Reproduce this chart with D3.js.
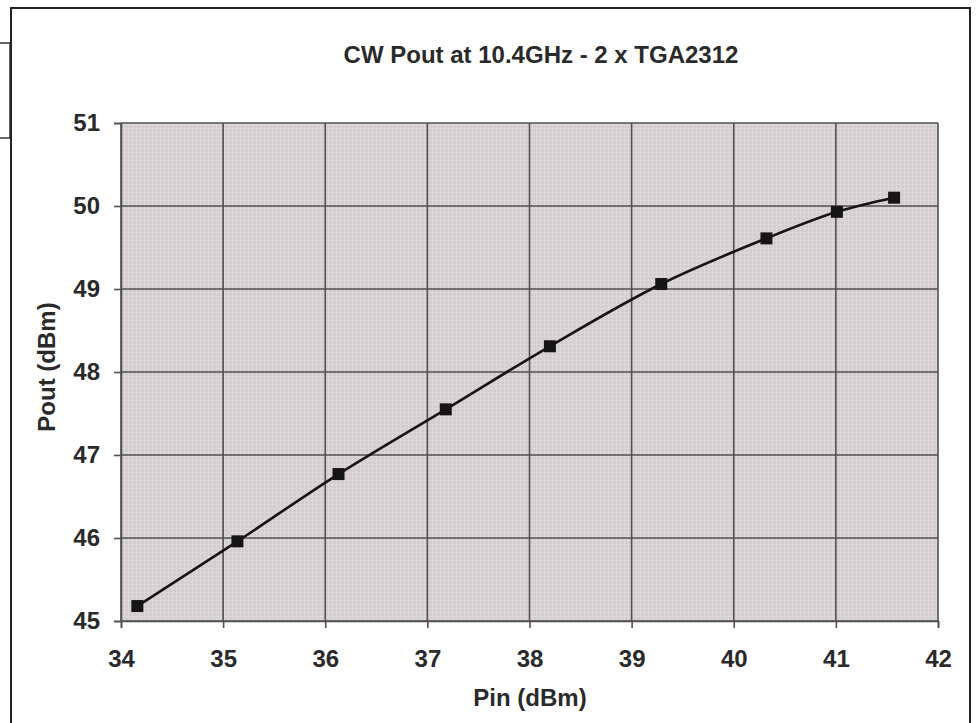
<!DOCTYPE html>
<html>
<head>
<meta charset="utf-8">
<script src="https://cdn.jsdelivr.net/npm/d3@7"></script>
<style>
  html, body { margin: 0; padding: 0; background: #fff; }
  svg { display: block; }
  text { font-family: "Liberation Sans", Arial, sans-serif; font-weight: bold; fill: #2a2a2a; }
</style>
</head>
<body>
<script>
// ---- data ----
const title = "CW Pout at 10.4GHz - 2 x TGA2312";
const xLabel = "Pin (dBm)";
const yLabel = "Pout (dBm)";
const pin  = [34.16, 35.14, 36.13, 37.18, 38.20, 39.29, 40.32, 41.01, 41.57];
const pout = [45.18, 45.96, 46.77, 47.55, 48.31, 49.06, 49.61, 49.93, 50.10];
const xTicks = [34, 35, 36, 37, 38, 39, 40, 41, 42];
const yTicks = [45, 46, 47, 48, 49, 50, 51];

const W = 976, H = 723;
const plot = { left: 121, top: 123, right: 938, bottom: 621 };

const svg = d3.select("body").append("svg").attr("width", W).attr("height", H);

// fine texture pattern for plot background
const defs = svg.append("defs");
const pat = defs.append("pattern").attr("id", "tex").attr("width", 4).attr("height", 4)
  .attr("patternUnits", "userSpaceOnUse");
pat.append("rect").attr("width", 4).attr("height", 4).attr("fill", "#d3cdce");
pat.append("rect").attr("x", 0).attr("y", 0).attr("width", 4).attr("height", 1).attr("fill", "#dcd7d8");
pat.append("rect").attr("x", 0).attr("y", 0).attr("width", 1).attr("height", 4).attr("fill", "#dcd7d8");

// outer frame pieces
svg.append("rect").attr("x", -2).attr("y", 43).attr("width", 12).attr("height", 95)
  .attr("fill", "none").attr("stroke", "#333").attr("stroke-width", 1.5);
svg.append("rect").attr("x", 11).attr("y", 8).attr("width", 959).attr("height", 730)
  .attr("fill", "#fff").attr("stroke", "#222").attr("stroke-width", 2);

const x = d3.scaleLinear().domain([34, 42]).range([plot.left, plot.right]);
const y = d3.scaleLinear().domain([45, 51]).range([plot.bottom, plot.top]);

// plot background
svg.append("rect").attr("x", plot.left).attr("y", plot.top)
  .attr("width", plot.right - plot.left).attr("height", plot.bottom - plot.top)
  .attr("fill", "url(#tex)");

// grid lines
const grid = svg.append("g").attr("stroke", "#505050").attr("stroke-width", 1.6);
grid.selectAll("line.v").data(xTicks).join("line").attr("class", "v")
  .attr("x1", d => x(d)).attr("x2", d => x(d)).attr("y1", plot.top).attr("y2", plot.bottom);
grid.selectAll("line.h").data(yTicks).join("line").attr("class", "h")
  .attr("x1", plot.left).attr("x2", plot.right).attr("y1", d => y(d)).attr("y2", d => y(d));

// axes
const xAxis = d3.axisBottom(x).tickValues(xTicks).tickSize(7).tickPadding(22).tickFormat(d3.format("d"));
const gx = svg.append("g").attr("transform", `translate(0,${plot.bottom})`).call(xAxis);
gx.select(".domain").attr("stroke", "#505050").attr("stroke-width", 1.6);
gx.selectAll(".tick line").attr("stroke", "#505050").attr("stroke-width", 1.6);
gx.selectAll(".tick text").attr("font-size", 24).attr("fill", "#2a2a2a")
  .attr("font-family", "Liberation Sans, Arial, sans-serif").attr("font-weight", "bold");

const yAxis = d3.axisLeft(y).tickValues(yTicks).tickSize(7).tickPadding(14).tickFormat(d3.format("d"));
const gy = svg.append("g").attr("transform", `translate(${plot.left},0)`).call(yAxis);
gy.select(".domain").attr("stroke", "#505050").attr("stroke-width", 1.6);
gy.selectAll(".tick line").attr("stroke", "#505050").attr("stroke-width", 1.6);
gy.selectAll(".tick text").attr("font-size", 24).attr("fill", "#2a2a2a")
  .attr("font-family", "Liberation Sans, Arial, sans-serif").attr("font-weight", "bold");

// data line (smoothed)
const pts = pin.map((v, i) => [v, pout[i]]);
svg.append("path").datum(pts)
  .attr("d", d3.line().x(d => x(d[0])).y(d => y(d[1])).curve(d3.curveCatmullRom.alpha(0.5)))
  .attr("fill", "none").attr("stroke", "#151515").attr("stroke-width", 2.6);

// markers
const ms = 12;
svg.selectAll("rect.m").data(pts).join("rect").attr("class", "m")
  .attr("x", d => x(d[0]) - ms / 2).attr("y", d => y(d[1]) - ms / 2)
  .attr("width", ms).attr("height", ms).attr("fill", "#151515");

// titles
svg.append("text").attr("x", 541).attr("y", 63).attr("text-anchor", "middle")
  .attr("font-size", 24).text(title);
svg.append("text").attr("x", 530).attr("y", 706).attr("text-anchor", "middle")
  .attr("font-size", 24).text(xLabel);
svg.append("text").attr("transform", "translate(55,367) rotate(-90)").attr("text-anchor", "middle")
  .attr("font-size", 24).text(yLabel);
</script>
</body>
</html>
